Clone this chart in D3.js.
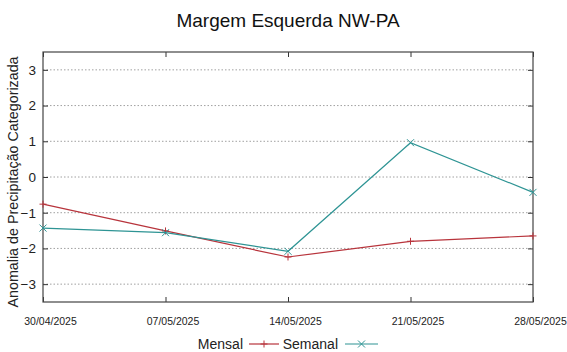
<!DOCTYPE html>
<html>
<head>
<meta charset="utf-8">
<script src="https://cdn.jsdelivr.net/npm/d3@7"></script>
<style>
  html, body { margin: 0; padding: 0; background: #fff; }
  svg { display: block; font-family: "Liberation Sans", Arial, sans-serif; }
</style>
</head>
<body>
<svg id="chart" width="567" height="352"></svg>
<script>
// Weekly dates and categorized precipitation anomaly series
const dates = ["30/04/2025", "07/05/2025", "14/05/2025", "21/05/2025", "28/05/2025"];
const mensal = [-0.76, -1.51, -2.24, -1.80, -1.65];
const semanal = [-1.43, -1.56, -2.08, 0.96, -0.43];
const yTicks = [-3, -2, -1, 0, 1, 2, 3];

const svg = d3.select("#chart");
const margin = { left: 43, right: 34, top: 52, bottom: 50 };
const W = 567, H = 352;
const x0 = margin.left, x1 = W - margin.right;
const y0 = H - margin.bottom, y1 = margin.top;

const parse = d3.timeParse("%d/%m/%Y");
const fmt = d3.timeFormat("%d/%m/%Y");
const dateVals = dates.map(parse);

const x = d3.scaleTime().domain(d3.extent(dateVals)).range([x0, x1]);
const y = d3.scaleLinear().domain([-3.5, 3.5]).range([y0, y1]);

// Dotted horizontal grid
svg.append("g")
  .selectAll("line")
  .data(yTicks)
  .join("line")
  .attr("x1", x0).attr("x2", x1)
  .attr("y1", d => y(d)).attr("y2", d => y(d))
  .attr("stroke", "#a0a0a0")
  .attr("stroke-width", 1)
  .attr("stroke-dasharray", "1.5,2");

// Axes with inward ticks, mirrored on top/right
const tickLen = 5;
const axLeft = svg.append("g").attr("transform", `translate(${x0},0)`)
  .call(d3.axisLeft(y).tickValues(yTicks).tickSizeInner(-tickLen).tickSizeOuter(0).tickPadding(7).tickFormat(d3.format("d")));
const axRight = svg.append("g").attr("transform", `translate(${x1},0)`)
  .call(d3.axisRight(y).tickValues(yTicks).tickSizeInner(-tickLen).tickSizeOuter(0).tickFormat(""));
const axBottom = svg.append("g").attr("transform", `translate(0,${y0})`)
  .call(d3.axisBottom(x).tickValues(dateVals).tickSizeInner(-tickLen).tickSizeOuter(0).tickPadding(16).tickFormat(fmt));
const axTop = svg.append("g").attr("transform", `translate(0,${y1})`)
  .call(d3.axisTop(x).tickValues(dateVals).tickSizeInner(-tickLen).tickSizeOuter(0).tickFormat(""));

[axLeft, axRight, axBottom, axTop].forEach(g => {
  g.select(".domain").remove();
  g.selectAll(".tick line").attr("stroke", "#333").attr("stroke-width", 1);
});
axLeft.selectAll(".tick text").attr("font-size", 13.5).attr("fill", "#222");
axBottom.selectAll(".tick text").attr("font-size", 10.5).attr("fill", "#222").attr("dx", 7);

// Plot border
svg.append("rect")
  .attr("x", x0).attr("y", y1)
  .attr("width", x1 - x0).attr("height", y0 - y1)
  .attr("fill", "none").attr("stroke", "#444").attr("stroke-width", 1.2);

// Series
const series = [
  { name: "Mensal", values: mensal, color: "#b8343c", marker: "plus" },
  { name: "Semanal", values: semanal, color: "#2e9494", marker: "cross" }
];

const line = d3.line().x((d, i) => x(dateVals[i])).y(d => y(d));

function marker(g, cx, cy, type, color) {
  const s = 3.5;
  if (type === "plus") {
    g.append("line").attr("x1", cx - s).attr("x2", cx + s).attr("y1", cy).attr("y2", cy);
    g.append("line").attr("x1", cx).attr("x2", cx).attr("y1", cy - s).attr("y2", cy + s);
  } else {
    g.append("line").attr("x1", cx - s).attr("x2", cx + s).attr("y1", cy - s).attr("y2", cy + s);
    g.append("line").attr("x1", cx - s).attr("x2", cx + s).attr("y1", cy + s).attr("y2", cy - s);
  }
  g.selectAll("line").attr("stroke", color).attr("stroke-width", 1);
}

series.forEach(s => {
  svg.append("path")
    .datum(s.values)
    .attr("d", line)
    .attr("fill", "none")
    .attr("stroke", s.color)
    .attr("stroke-width", 1.2);
  s.values.forEach((v, i) => {
    marker(svg.append("g"), x(dateVals[i]), y(v), s.marker, s.color);
  });
});

// Title
svg.append("text")
  .attr("x", (x0 + x1) / 2).attr("y", 27)
  .attr("text-anchor", "middle")
  .attr("font-size", 19)
  .attr("fill", "#111")
  .text("Margem Esquerda NW-PA");

// Y axis label
svg.append("text")
  .attr("transform", `translate(18,${(y0 + y1) / 2 + 5}) rotate(-90)`)
  .attr("text-anchor", "middle")
  .attr("font-size", 14.3)
  .attr("fill", "#222")
  .text("Anomalia de Precipitação Categorizada");

// Legend
const ly = 344;
const legend = [
  { label: "Mensal", textEnd: 243, lx0: 249, lx1: 279, s: series[0] },
  { label: "Semanal", textEnd: 338, lx0: 345, lx1: 378, s: series[1] }
];
legend.forEach(l => {
  svg.append("text")
    .attr("x", l.textEnd).attr("y", ly + 5)
    .attr("text-anchor", "end")
    .attr("font-size", 14)
    .attr("fill", "#222")
    .text(l.label);
  svg.append("line")
    .attr("x1", l.lx0).attr("x2", l.lx1).attr("y1", ly).attr("y2", ly)
    .attr("stroke", l.s.color).attr("stroke-width", 1.2);
  marker(svg.append("g"), (l.lx0 + l.lx1) / 2, ly, l.s.marker, l.s.color);
});
</script>
</body>
</html>
